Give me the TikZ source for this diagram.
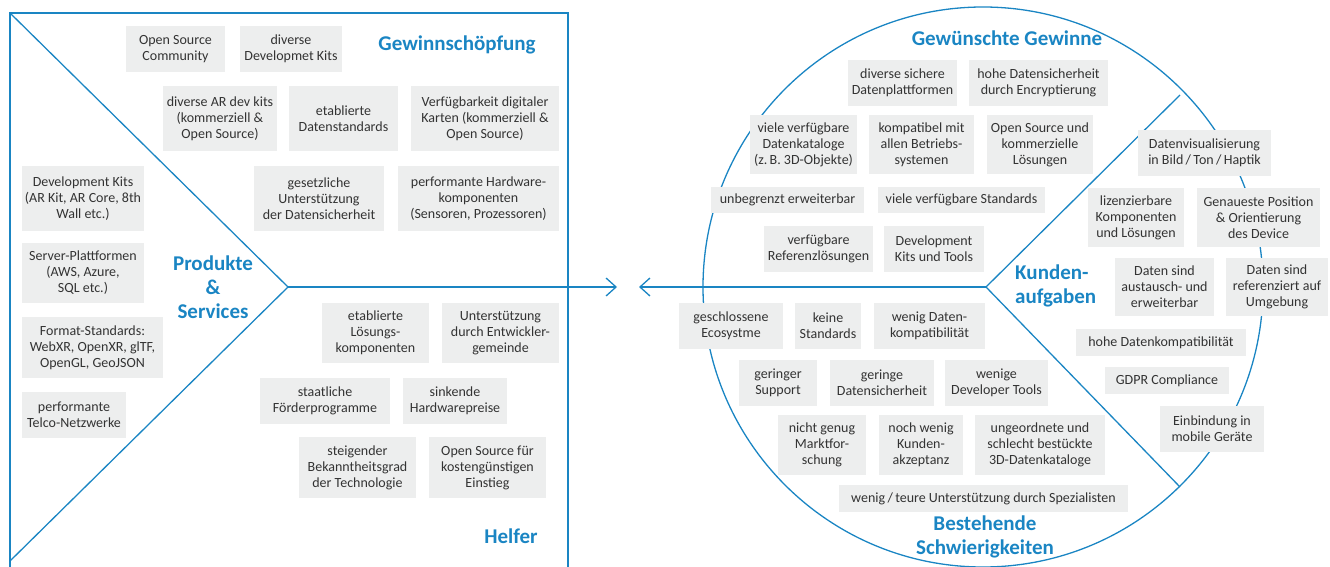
\documentclass[tikz,border=0pt]{standalone}
\usepackage{fontspec}
\setmainfont{Carlito}
\usepackage{tikz}
\usetikzlibrary{arrows.meta}
\definecolor{canvasblue}{HTML}{1A85C3}
\definecolor{cardgray}{HTML}{EDEEEE}
\definecolor{inkgray}{HTML}{333333}

\begin{document}
\begin{tikzpicture}[x=1pt, y=-1pt,
  card/.style={fill=cardgray, text=inkgray, align=center, inner sep=0pt, font=\fontsize{14}{16}\selectfont},
  heading/.style={text=canvasblue, align=center, inner sep=0pt, font=\fontsize{21}{24}\selectfont\bfseries},
  frame/.style={draw=canvasblue, line width=1.3pt},
  pointer/.style={frame, -{Straight Barb[length=10pt, width=18pt, line width=1.3pt]}}
]
\clip (0,0) rectangle (1330,567);
\useasboundingbox (0,0) rectangle (1330,567);

% key points
\coordinate (apex) at (288,287);
\coordinate (hub) at (986,287);
\coordinate (tipL) at (617,287);
\coordinate (tipR) at (639,287);
\coordinate (rayUp) at (1180,95);
\coordinate (rayDown) at (1180,487);

% value map (square)
\draw[frame] (10,585) -- (10,13) -- (568,13) -- (568,585);
\draw[frame] (10,13) -- (apex) -- (10,561);
\draw[pointer] (apex) -- (tipL);

% customer profile (circle)
\draw[frame] (983,287) circle[radius=280pt];
\draw[frame] (rayUp) -- (hub) -- (rayDown);
\draw[pointer] (hub) -- (tipR);

% Gewinnschoepfung
\node[heading] (gs) at (457,45) {Gewinnschöpfung};
\node[card, minimum width=99, minimum height=46] (a1) at (175.5,49) {Open Source\\Community};
\node[card, minimum width=102, minimum height=46] (a2) at (291,49) {diverse\\Developmet Kits};
\node[card, minimum width=114, minimum height=65] (a3) at (220,118.5) {diverse AR dev kits\\(kommerziell \&\\Open Source)};
\node[card, minimum width=109, minimum height=65] (a4) at (343.5,118.5) {etablierte\\Datenstandards};
\node[card, minimum width=148, minimum height=65] (a5) at (485,118.5) {Verfügbarkeit digitaler\\Karten (kommerziell \&\\Open Source)};
\node[card, minimum width=130, minimum height=65] (a6) at (319,198.5) {gesetzliche\\Unterstützung\\der Datensicherheit};
\node[card, minimum width=161, minimum height=65] (a7) at (478.5,198.5) {performante Hardware-\\komponenten\\(Sensoren, Prozessoren)};

% Produkte & Services
\node[heading] (ps) at (213,287) {Produkte\\\&\\Services};
\node[card, minimum width=122, minimum height=65] (p1) at (83,198.5) {Development Kits\\(AR Kit, AR Core, 8th\\Wall etc.)};
\node[card, minimum width=122, minimum height=60] (p2) at (83,273) {Server-Plattformen\\(AWS, Azure,\\SQL etc.)};
\node[card, minimum width=141, minimum height=61] (p3) at (92.5,347.5) {Format-Standards:\\WebXR, OpenXR, glTF,\\OpenGL, GeoJSON};
\node[card, minimum width=104, minimum height=46] (p4) at (74,415) {performante\\Telco-Netzwerke};

% Helfer
\node[heading] (hf) at (511,536) {Helfer};
\node[card, minimum width=107, minimum height=60] (h1) at (375.5,333) {etablierte\\Lösungs-\\komponenten};
\node[card, minimum width=117, minimum height=60] (h2) at (500.5,333) {Unterstützung\\durch Entwickler-\\gemeinde};
\node[card, minimum width=130, minimum height=46] (h3) at (325,401) {staatliche\\Förderprogramme};
\node[card, minimum width=104, minimum height=46] (h4) at (455,401) {sinkende\\Hardwarepreise};
\node[card, minimum width=117, minimum height=61] (h5) at (357.5,467.5) {steigender\\Bekanntheitsgrad\\der Technologie};
\node[card, minimum width=117, minimum height=61] (h6) at (487.5,467.5) {Open Source für\\kostengünstigen\\Einstieg};

% Gewuenschte Gewinne
\node[heading] (gg) at (1007,38) {Gewünschte Gewinne};
\node[card, minimum width=109, minimum height=46] (g1) at (902.5,83) {diverse sichere\\Datenplattformen};
\node[card, minimum width=139, minimum height=46] (g2) at (1038.5,83) {hohe Datensicherheit\\durch Encryptierung};
\node[card, minimum width=107, minimum height=59] (g3) at (803.5,144.5) {viele verfügbare\\Datenkataloge\\(z.\,B. 3D-Objekte)};
\node[card, minimum width=105, minimum height=59] (g4) at (921.5,144.5) {kompatibel mit\\allen Betriebs-\\systemen};
\node[card, minimum width=106, minimum height=59] (g5) at (1040,144.5) {Open Source und\\kommerzielle\\Lösungen};
\node[card, minimum width=153, minimum height=26] (g6) at (787.5,200) {unbegrenzt erweiterbar};
\node[card, minimum width=167, minimum height=26] (g7) at (961.5,200) {viele verfügbare Standards};
\node[card, minimum width=109, minimum height=46] (g8) at (818.5,249) {verfügbare\\Referenzlösungen};
\node[card, minimum width=100, minimum height=46] (g9) at (934,249) {Development\\Kits und Tools};

% Kundenaufgaben
\node[heading, align=left, anchor=west] (ka) at (1015,286) {Kunden-\\aufgaben};
\node[card, minimum width=133, minimum height=46] (k1) at (1204.5,153) {Datenvisualisierung\\in Bild\,/\,Ton\,/\,Haptik};
\node[card, minimum width=96, minimum height=59] (k2) at (1136,217.5) {lizenzierbare\\Komponenten\\und Lösungen};
\node[card, minimum width=123, minimum height=59] (k3) at (1258.5,217.5) {Genaueste Position\\\& Orientierung\\des Device};
\node[card, minimum width=99, minimum height=58] (k4) at (1164.5,287) {Daten sind\\austausch- und\\erweiterbar};
\node[card, minimum width=102, minimum height=58] (k5) at (1277,287) {Daten sind\\referenziert auf\\Umgebung};
\node[card, minimum width=170, minimum height=27] (k6) at (1161,342.5) {hohe Datenkompatibilität};
\node[card, minimum width=124, minimum height=27] (k7) at (1167,380.5) {GDPR Compliance};
\node[card, minimum width=104, minimum height=46] (k8) at (1212,429) {Einbindung in\\mobile Geräte};

% Bestehende Schwierigkeiten
\node[heading] (bs) at (985,536.5) {Bestehende\\Schwierigkeiten};
\node[card, minimum width=104, minimum height=46] (b1) at (731,326) {geschlossene\\Ecosystme};
\node[card, minimum width=66, minimum height=46] (b2) at (828,326) {keine\\Standards};
\node[card, minimum width=111, minimum height=46] (b3) at (929.5,326) {wenig Daten-\\kompatibilität};
\node[card, minimum width=78, minimum height=46] (b4) at (778,383) {geringer\\Support};
\node[card, minimum width=104, minimum height=46] (b5) at (882,383) {geringe\\Datensicherheit};
\node[card, minimum width=103, minimum height=46] (b6) at (996.5,383) {wenige\\Developer Tools};
\node[card, minimum width=88, minimum height=60] (b7) at (822,445) {nicht genug\\Marktfor-\\schung};
\node[card, minimum width=84, minimum height=60] (b8) at (921,445) {noch wenig\\Kunden-\\akzeptanz};
\node[card, minimum width=130, minimum height=60] (b9) at (1040,445) {ungeordnete und\\schlecht bestückte\\3D-Datenkataloge};
\node[card, minimum width=289, minimum height=27] (b10) at (983.5,498.5) {wenig\,/\,teure Unterstützung durch Spezialisten};
\end{tikzpicture}
\end{document}
